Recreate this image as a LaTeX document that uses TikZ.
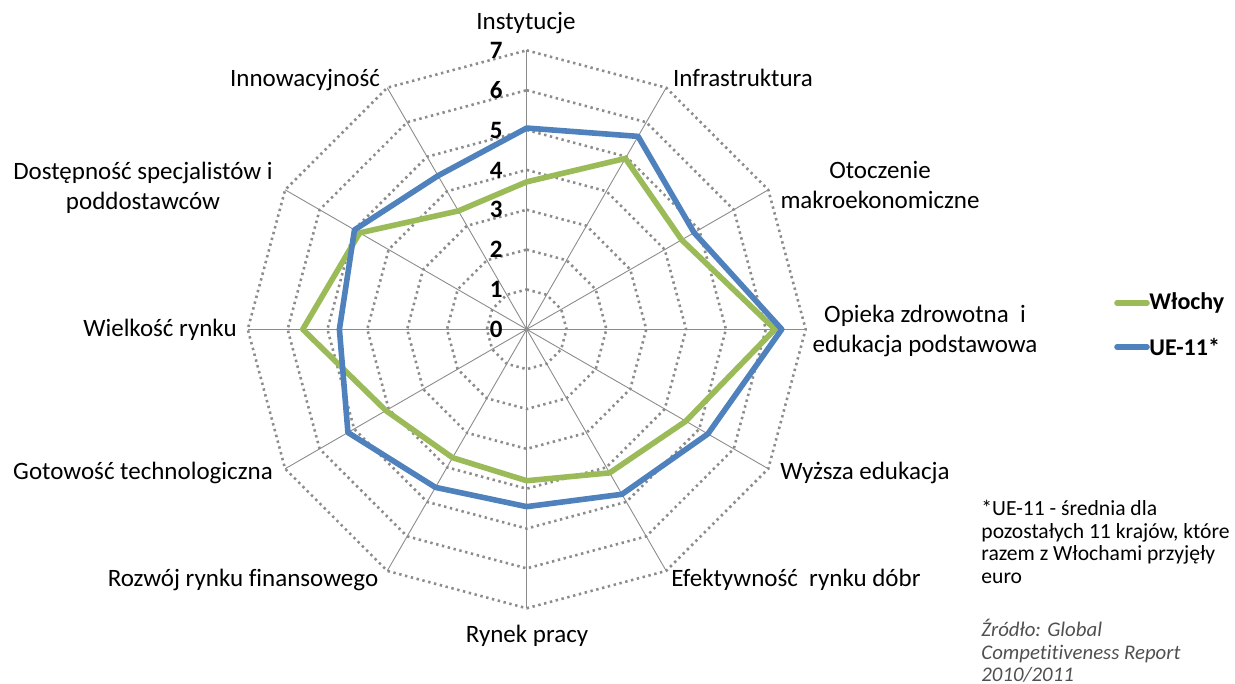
\documentclass[tikz,border=0pt]{standalone}
\usepackage{fontspec}
\setmainfont{Carlito}[Ligatures=NoCommon]
\definecolor{xlgreen}{HTML}{9BBB59}
\definecolor{xlblue}{HTML}{4F81BD}
\definecolor{ringgray}{HTML}{8C8C8C}
\definecolor{axisgray}{HTML}{8C8C8C}
\definecolor{srcgray}{HTML}{505050}
\tikzset{
  ring/.style={draw=ringgray, line width=1.3pt, dash pattern=on 1.2pt off 1.8pt},
  axisline/.style={draw=axisgray, line width=0.45pt},
  gline/.style={draw=xlgreen, line width=2.8pt, line join=round},
  bline/.style={draw=xlblue, line width=2.8pt, line join=round},
  cat/.style={font=\fontsize{12.5}{15}\selectfont, text=black, align=center, inner sep=0pt},
  tick/.style={font=\bfseries\fontsize{12.5}{14}\selectfont, text=black, inner sep=0pt},
  leg/.style={font=\bfseries\fontsize{12}{14}\selectfont, text=black, anchor=west, inner sep=0pt},
  note/.style={font=\fontsize{10.8}{11.25}\selectfont, text=black, align=left, anchor=north west, inner sep=0pt},
  src/.style={font=\itshape\fontsize{10.4}{11.25}\selectfont, text=srcgray, align=left, anchor=north west, inner sep=0pt}
}
\begin{document}
\begin{tikzpicture}[x=0.5pt,y=-0.5pt]
\useasboundingbox (0,0) rectangle (1235,684);
\def\R{39.85}
\begin{scope}[shift={(526.7,329.3)}]
  \coordinate (O) at (0,0);
  % dotted rings
  \foreach \v in {1,...,7}{
    \draw[ring] (-90:\v*\R) \foreach \k in {1,...,11}{ -- (\k*30-90:\v*\R)} -- cycle;
  }
  % axes
  \foreach \k in {0,...,11}{
    \coordinate (A\k) at (\k*30-90:7*\R);
    \draw[axisline] (O) -- (A\k);
  }
  % series
  \draw[gline] (-90:3.70*\R) -- (-60:4.95*\R) -- (-30:4.49*\R) -- (0:6.23*\R)
     -- (30:4.61*\R) -- (60:4.16*\R) -- (90:3.80*\R) -- (120:3.72*\R)
     -- (150:4.08*\R) -- (180:5.62*\R) -- (210:4.84*\R) -- (240:3.43*\R) -- cycle;
  \draw[bline] (-90:5.05*\R) -- (-60:5.59*\R) -- (-30:4.85*\R) -- (0:6.40*\R)
     -- (30:5.25*\R) -- (60:4.78*\R) -- (90:4.45*\R) -- (120:4.58*\R)
     -- (150:5.18*\R) -- (180:4.70*\R) -- (210:4.99*\R) -- (240:4.45*\R) -- cycle;
  % tick labels
  \foreach \v in {0,...,7}{
    \node[tick] (t\v) at (-30.5,-\v*\R) {\v};
  }
\end{scope}
% category labels
\node[cat] (c0) at (526,23) {Instytucje};
\node[cat] (c1) at (743,78) {Infrastruktura};
\node[cat] (c2) at (880,185) {Otoczenie\\makroekonomiczne};
\node[cat] (c3) at (925,331) {Opieka zdrowotna\ \ i\\edukacja podstawowa};
\node[cat] (c4) at (865,473) {Wyższa edukacja};
\node[cat] (c5) at (796,580) {Efektywność\ \ rynku dóbr};
\node[cat] (c6) at (527,636) {Rynek pracy};
\node[cat] (c7) at (243,580) {Rozwój rynku finansowego};
\node[cat] (c8) at (143,473) {Gotowość technologiczna};
\node[cat] (c9) at (160,330) {Wielkość rynku};
\node[cat] (c10) at (143,188) {Dostępność specjalistów i\\poddostawców};
\node[cat] (c11) at (305,80) {Innowacyjność};
% legend
\coordinate (lg1) at (1117,303);
\coordinate (lg2) at (1147,303);
\coordinate (lb1) at (1117,347);
\coordinate (lb2) at (1147,347);
\draw[gline, line cap=round] (lg1) -- (lg2);
\draw[bline, line cap=round] (lb1) -- (lb2);
\node[leg] (lgt) at (1149,303) {Włochy};
\node[leg] (lbt) at (1149,347) {UE-11*};
% notes
\node[note] (nt) at (981,500) {*UE-11 - średnia dla\\pozostałych 11 krajów, które\\razem z Włochami przyjęły\\euro};
\node[src] (sr) at (981,619) {Źródło: Global\\Competitiveness Report\\2010/2011};
\end{tikzpicture}
\end{document}
